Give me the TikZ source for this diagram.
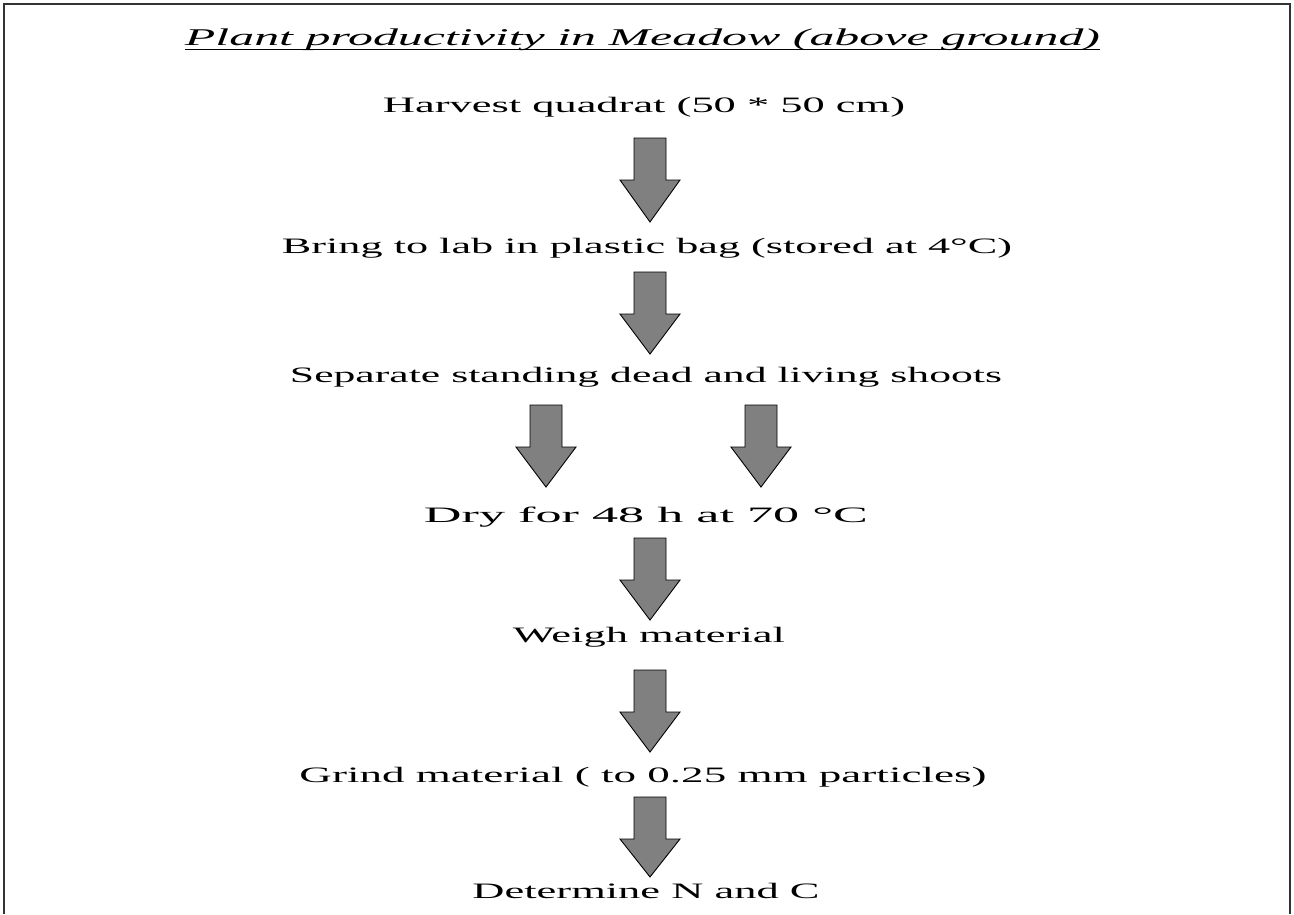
\documentclass[tikz,border=0pt]{standalone}
\usepackage{fontspec}
\usepackage{graphicx}
\setmainfont{Liberation Serif}
\usetikzlibrary{calc}
\newcommand\wtext[2]{\resizebox{#1pt}{\height}{#2}}
\tikzset{
  txt/.style={anchor=base, inner sep=0pt, font=\fontsize{22}{24}\selectfont, text=black},
  ttl/.style={anchor=base, inner sep=0pt, font=\fontsize{24}{26}\selectfont\itshape, text=black},
  barrow/.style={draw=black, line width=0.9pt, fill=gray!100!white, fill=black!50},
  frame/.style={draw=black!80, line width=2pt}
}
\newcommand\blockarrow[2]{%
  \draw[barrow] ($(#1)+(-16,0)$) -- ($(#1)+(16,0)$) -- ($(#1)+(16,42)$) -- ($(#1)+(30,42)$) -- (#2)
    -- ($(#1)+(-30,42)$) -- ($(#1)+(-16,42)$) -- cycle;}
\begin{document}
\begin{tikzpicture}[x=1pt,y=-1pt]
\useasboundingbox (0,0) rectangle (1294,914);
\fill[white] (0,0) rectangle (1294,914);
% frame (open at bottom)
\draw[frame] (4,914) -- (4,4) -- (1290,4) -- (1290,914);
% title
\node[ttl] (title) at (642.5,45) {\wtext{915}{Plant productivity in Meadow (above ground)}};
\draw[line width=1.8pt] ($(title.base west)+(0,4.5)$) -- ($(title.base east)+(0,4.5)$);
% steps
\node[txt] (s1) at (644,112) {\wtext{522}{Harvest quadrat (50 * 50 cm)}};
\node[txt] (s2) at (647,253) {\wtext{730}{Bring to lab in plastic bag (stored at 4°C)}};
\node[txt] (s3) at (646,382) {\wtext{712}{Separate standing dead and living shoots}};
\node[txt] (s4) at (646,522) {\wtext{444}{Dry for 48 h at 70 °C}};
\node[txt] (s5) at (649,642) {\wtext{272}{Weigh material}};
\node[txt] (s6) at (643,782) {\wtext{687}{Grind material ( to 0.25 mm particles)}};
\node[txt] (s7) at (646,898) {\wtext{347}{Determine N and C}};
% arrow coordinates
\coordinate (a1s) at (650,138); \coordinate (a1e) at (650,222);
\coordinate (a2s) at (650,272); \coordinate (a2e) at (650,354);
\coordinate (a3s) at (546,405); \coordinate (a3e) at (546,487);
\coordinate (a4s) at (761,405); \coordinate (a4e) at (761,487);
\coordinate (a5s) at (650,538); \coordinate (a5e) at (650,620);
\coordinate (a6s) at (650,670); \coordinate (a6e) at (650,752);
\coordinate (a7s) at (650,797); \coordinate (a7e) at (650,877);
\blockarrow{a1s}{a1e}
\blockarrow{a2s}{a2e}
\blockarrow{a3s}{a3e}
\blockarrow{a4s}{a4e}
\blockarrow{a5s}{a5e}
\blockarrow{a6s}{a6e}
\blockarrow{a7s}{a7e}
\end{tikzpicture}
\end{document}
